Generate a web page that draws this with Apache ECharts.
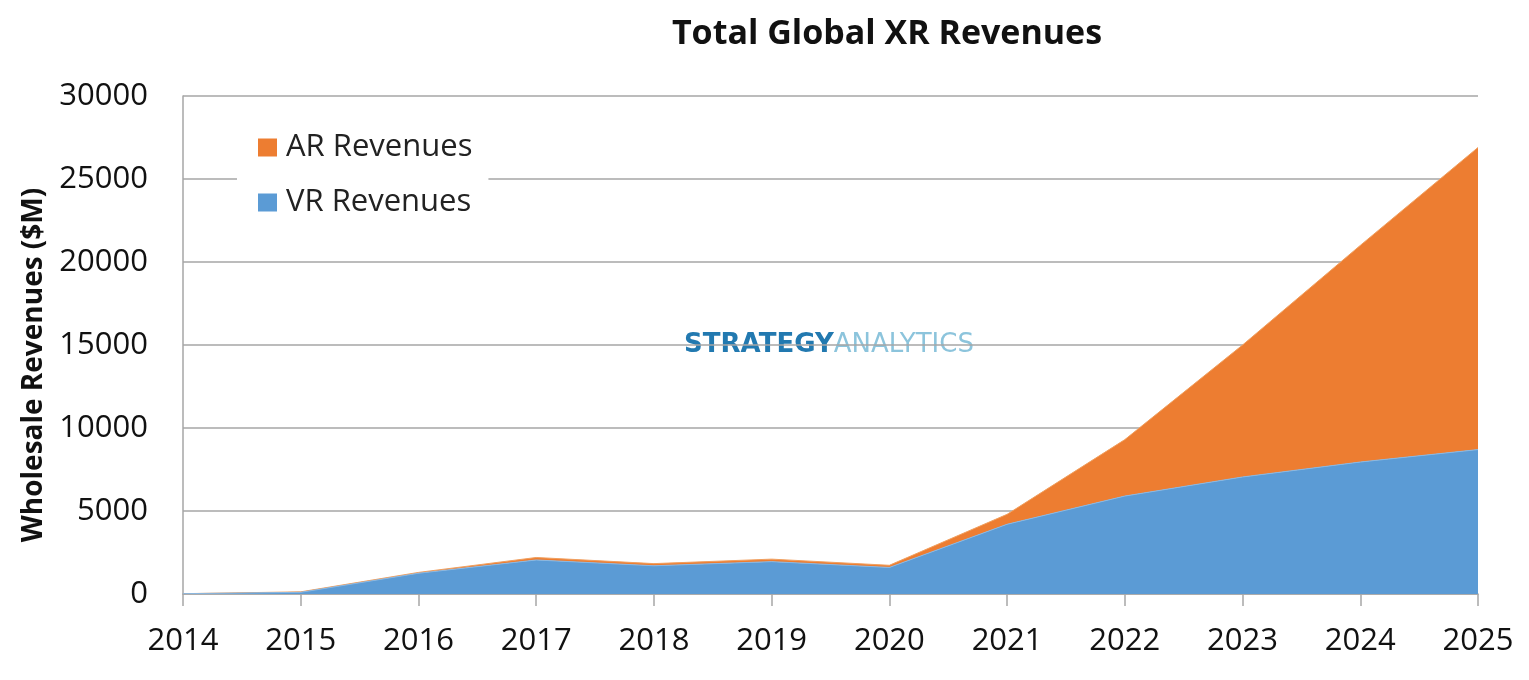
<!DOCTYPE html>
<html><head><meta charset="utf-8">
<script src="https://cdn.jsdelivr.net/npm/echarts@6/dist/echarts.min.js"></script>
<style>html,body{margin:0;padding:0;background:#fff}#c{width:1529px;height:680px}</style>
</head><body><div id="c"></div>
<script>
const years = ['2014','2015','2016','2017','2018','2019','2020','2021','2022','2023','2024','2025'];
const vrRevenues = [20, 100, 1250, 2050, 1700, 1950, 1600, 4200, 5900, 7050, 7950, 8700];
const arRevenues = [0, 30, 50, 150, 130, 150, 130, 600, 3400, 7950, 13050, 18200];
const yTicks = [0, 5000, 10000, 15000, 20000, 25000, 30000];

const chart = echarts.init(document.getElementById('c'));
const font = '"Open Sans", "Liberation Sans", sans-serif';
chart.setOption({
  animation: false,
  title: {
    text: 'Total Global XR Revenues', left: 882, top: 12, textAlign: 'center',
    textStyle: {fontFamily: font, fontSize: 34, fontWeight: 'bold', color: '#111'}
  },
  grid: {left: 183, right: 51, top: 96, bottom: 86},
  legend: {
    orient: 'vertical', left: 237, top: 124,
    data: ['AR Revenues', 'VR Revenues'],
    itemWidth: 19, itemHeight: 18, itemGap: 24,
    backgroundColor: '#fff', padding: [8, 16, 8, 21],
    icon: 'rect',
    textStyle: {fontFamily: font, fontSize: 31, color: '#222', padding: [0, 0, 0, 4]}
  },
  xAxis: {
    type: 'category', data: years, boundaryGap: false,
    axisLine: {lineStyle: {color: '#a6a6a6', width: 1.5}},
    axisTick: {show: true, length: 12, lineStyle: {color: '#a6a6a6', width: 1.5}},
    axisLabel: {fontFamily: font, fontSize: 31, color: '#111', margin: 32}
  },
  yAxis: {
    type: 'value', min: 0, max: 30000, interval: 5000,
    axisLine: {show: true, lineStyle: {color: '#a6a6a6', width: 1.5}},
    axisTick: {show: false},
    axisLabel: {fontFamily: font, fontSize: 31, color: '#111', margin: 35,
      formatter: v => yTicks.includes(v) ? String(v) : ''},
    splitLine: {lineStyle: {color: '#a6a6a6', width: 1.5}}
  },
  graphic: [{
    type: 'text', x: 34, y: 365, rotation: Math.PI / 2, z: 10,
    style: {
      text: 'Wholesale Revenues ($M)', align: 'center', verticalAlign: 'middle',
      fontFamily: font, fontSize: 28, fontWeight: 'bold', fill: '#111'
    }
  }, {
    type: 'text', x: 829, y: 345, z: 0,
    style: {
      text: '{a|STRATEGY}{b|ANALYTICS}', align: 'center', verticalAlign: 'middle',
      rich: {
        a: {fontFamily: '"DejaVu Sans", sans-serif', fontSize: 26, fontWeight: 'bold', fill: '#2279b0'},
        b: {fontFamily: '"DejaVu Sans", sans-serif', fontSize: 26, fontWeight: 'normal', fill: '#8cc4dc'}
      }
    }
  }],
  series: [
    {name: 'VR Revenues', type: 'line', stack: 'total', data: vrRevenues, symbol: 'none',
     lineStyle: {width: 1, color: '#8ab8e2'}, itemStyle: {color: '#5b9bd5'},
     areaStyle: {color: '#5b9bd5', opacity: 1}, z: 3},
    {name: 'AR Revenues', type: 'line', stack: 'total', data: arRevenues, symbol: 'none',
     lineStyle: {width: 1, color: '#f0a060'}, itemStyle: {color: '#ed7d31'},
     areaStyle: {color: '#ed7d31', opacity: 1}, z: 2}
  ]
});
</script></body></html>
